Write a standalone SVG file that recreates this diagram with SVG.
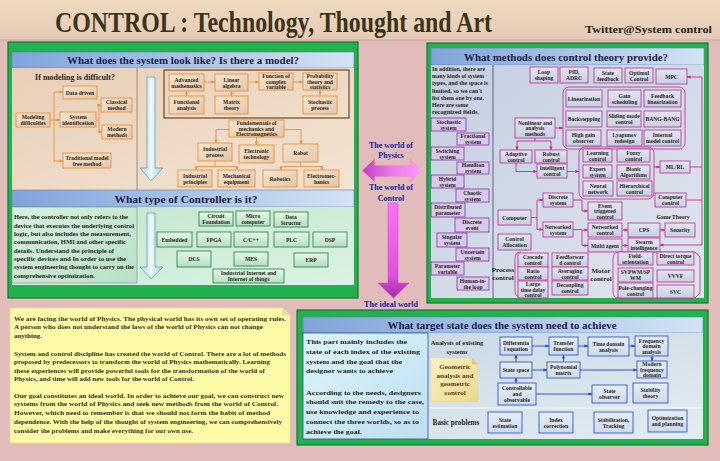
<svg xmlns="http://www.w3.org/2000/svg" width="720" height="461" viewBox="0 0 720 461">
<defs>
<linearGradient id="gTitle" x1="0" y1="0" x2="0" y2="1"><stop offset="0" stop-color="#eddbbf"/><stop offset="1" stop-color="#e6c9b6"/></linearGradient>
<linearGradient id="gHead" x1="0" y1="0" x2="1" y2="0"><stop offset="0" stop-color="#7fa3da"/><stop offset="1" stop-color="#d3e3f4"/></linearGradient>
<linearGradient id="gBeige" x1="0" y1="0" x2="1" y2="1"><stop offset="0" stop-color="#e8cfb7"/><stop offset="1" stop-color="#f3e3d3"/></linearGradient>
<linearGradient id="gOrange" x1="0" y1="0" x2="1" y2="1"><stop offset="0" stop-color="#f6e6d2"/><stop offset="1" stop-color="#e4c5a6"/></linearGradient>
<linearGradient id="gGreenBg" x1="0" y1="0" x2="1" y2="1"><stop offset="0" stop-color="#c2e5cd"/><stop offset="1" stop-color="#dcf2e3"/></linearGradient>
<linearGradient id="gGreenTxt" x1="0" y1="0" x2="1" y2="1"><stop offset="0" stop-color="#d6f0df"/><stop offset="1" stop-color="#b8e0c6"/></linearGradient>
<linearGradient id="gGreenBox" x1="0" y1="0" x2="0" y2="1"><stop offset="0" stop-color="#e6f7ea"/><stop offset="1" stop-color="#b4dec0"/></linearGradient>
<linearGradient id="gSteel" x1="0" y1="0" x2="1" y2="1"><stop offset="0" stop-color="#c4cee0"/><stop offset="1" stop-color="#e0e6ef"/></linearGradient>
<linearGradient id="gSteelBox" x1="0" y1="0" x2="0" y2="1"><stop offset="0" stop-color="#e2e6f2"/><stop offset="1" stop-color="#c8cee2"/></linearGradient>
<linearGradient id="gCyan" x1="0" y1="0" x2="1" y2="1"><stop offset="0" stop-color="#dcf4fb"/><stop offset="1" stop-color="#bddff0"/></linearGradient>
<linearGradient id="gBR" x1="0" y1="0" x2="1" y2="1"><stop offset="0" stop-color="#c6d6e4"/><stop offset="1" stop-color="#e2edf1"/></linearGradient>
<linearGradient id="gBlueBox" x1="0" y1="0" x2="0" y2="1"><stop offset="0" stop-color="#e6eef8"/><stop offset="1" stop-color="#ccdaec"/></linearGradient>
<linearGradient id="gGeo" x1="0" y1="0" x2="1" y2="1"><stop offset="0" stop-color="#fbf0c0"/><stop offset="1" stop-color="#ecd88e"/></linearGradient>
<linearGradient id="gIce" x1="0" y1="0" x2="1" y2="0"><stop offset="0" stop-color="#a8d6e2"/><stop offset="0.5" stop-color="#eef9fb"/><stop offset="1" stop-color="#9ccfdc"/></linearGradient>
<linearGradient id="gMagH" x1="0" y1="0" x2="1" y2="0"><stop offset="0" stop-color="#c43cc8"/><stop offset="0.5" stop-color="#e57ce8"/><stop offset="1" stop-color="#ff98ff"/></linearGradient>
<linearGradient id="gMagV" x1="0" y1="0" x2="0" y2="1"><stop offset="0" stop-color="#ff70ff"/><stop offset="0.75" stop-color="#e050e0"/><stop offset="1" stop-color="#a828a8"/></linearGradient>
<marker id="aO" viewBox="0 0 10 10" refX="9" refY="5" markerWidth="4" markerHeight="4" orient="auto" markerUnits="userSpaceOnUse"><path d="M0,1 L10,5 L0,9 z" fill="#e8913c"/></marker>
<marker id="aM" viewBox="0 0 10 10" refX="9" refY="5" markerWidth="4" markerHeight="4" orient="auto" markerUnits="userSpaceOnUse"><path d="M0,1 L10,5 L0,9 z" fill="#d0288c"/></marker>
<marker id="aB" viewBox="0 0 10 10" refX="9" refY="5" markerWidth="4" markerHeight="4" orient="auto" markerUnits="userSpaceOnUse"><path d="M0,1 L10,5 L0,9 z" fill="#2848d0"/></marker>
<style>
text{font-family:"Liberation Serif","Times New Roman",serif;font-weight:bold;}
.frame{fill:#22b14c;stroke:#0f7a32;stroke-width:1.2;}
.head{fill:url(#gHead);stroke:#5a7fb8;stroke-width:0.6;}
.ht{font-size:11px;fill:#1c1c48;}
.bt{font-size:5.6px;fill:#2a2418;text-anchor:middle;}
.ob{fill:url(#gOrange);stroke:#e8913c;stroke-width:0.9;}
.gb{fill:url(#gGreenBox);stroke:#2e8b50;stroke-width:0.9;}
.pb{fill:#d8c8ec;stroke:#8e44a8;stroke-width:0.9;}
.mb{fill:url(#gSteelBox);stroke:#c03c9c;stroke-width:0.9;}
.bb{fill:url(#gBlueBox);stroke:#3858c0;stroke-width:0.9;}
.co{fill:none;stroke:#e8913c;stroke-width:0.9;}
.cm{fill:none;stroke:#d0288c;stroke-width:0.9;}
.cb{fill:none;stroke:#2848d0;stroke-width:0.9;}
.body{font-size:6.4px;fill:#2a2418;}
.yt{font-size:6.5px;fill:#3a3420;}
.world{font-size:8px;fill:#1a1aa0;text-anchor:middle;}
.lbl{font-size:7px;fill:#2a2418;text-anchor:middle;}
</style>
</defs>

<rect x="0" y="0" width="720" height="461" fill="#e1bcbb"/>

<g id="title">
<rect x="0" y="0" width="720" height="40" fill="url(#gTitle)"/>
<line x1="0" y1="40" x2="720" y2="40" stroke="#c9a89a" stroke-width="1"/>
<text x="55" y="32" font-size="29" fill="#3b3518" textLength="437" lengthAdjust="spacingAndGlyphs">CONTROL :  Technology, Thought and Art</text>
<text x="585" y="33" font-size="9.5" fill="#222222" textLength="127" lengthAdjust="spacingAndGlyphs">Twitter@System control</text>
</g>

<!-- LEFT PANEL -->
<g id="panel-model">
<rect class="frame" x="8" y="42" width="350" height="256"/>
<rect class="head" x="12" y="52" width="342" height="16"/>
<text class="ht" x="183" y="64" text-anchor="middle" textLength="232" lengthAdjust="spacingAndGlyphs">What does the system look like? Is there a model?</text>
<rect x="12" y="68" width="342" height="122" fill="url(#gBeige)"/>
<line x1="137" y1="68" x2="137" y2="190" stroke="#8a7a6a" stroke-width="0.8"/>
<text x="75" y="80" font-size="8" fill="#2a2418" text-anchor="middle">If modeling is difficult?</text>
<polygon points="147,77 155,77 155,168 163,168 151,181 140,168 147,168" fill="url(#gIce)" stroke="#6f9fae" stroke-width="0.8"/>
<rect x="164" y="70" width="185" height="48" fill="none" stroke="#6b4a2a" stroke-width="1.2"/>
</g>

<g id="n-data-driven"><rect class="ob" x="63" y="86" width="34" height="13"/><text class="bt" x="80" y="94.5">Data driven</text></g>
<g id="n-classical"><rect class="ob" x="101" y="98" width="31" height="14"/><text class="bt"><tspan x="116.5" y="104">Classical</tspan><tspan x="116.5" y="110">method</tspan></text></g>
<g id="n-modeling"><rect class="ob" x="16" y="113" width="34" height="14"/><text class="bt"><tspan x="33" y="119">Modeling</tspan><tspan x="33" y="125">difficulties</tspan></text></g>
<g id="n-sysid"><rect class="ob" x="60" y="112" width="36" height="15"/><text class="bt"><tspan x="78" y="118.5">System</tspan><tspan x="78" y="124.5">identification</tspan></text></g>
<g id="n-modern"><rect class="ob" x="102" y="125" width="30" height="14"/><text class="bt"><tspan x="117" y="131">Modern</tspan><tspan x="117" y="137">methods</tspan></text></g>
<g id="n-traditional"><rect class="ob" x="63" y="153" width="48" height="15"/><text class="bt"><tspan x="87" y="159.5">Traditional model</tspan><tspan x="87" y="165.5">free method</tspan></text></g>

<g id="n-adv-math"><rect class="ob" x="169" y="74" width="35" height="17"/><text class="bt"><tspan x="186.5" y="81.5">Advanced</tspan><tspan x="186.5" y="87.5">mathematics</tspan></text></g>
<g id="n-linear"><rect class="ob" x="215" y="74" width="33" height="17"/><text class="bt"><tspan x="231.5" y="81.5">Linear</tspan><tspan x="231.5" y="87.5">algebra</tspan></text></g>
<g id="n-complex"><rect class="ob" x="259" y="73" width="34" height="17"/><text class="bt"><tspan x="276" y="78.2">Function of</tspan><tspan x="276" y="83.5">complex</tspan><tspan x="276" y="88.8">variable</tspan></text></g>
<g id="n-prob"><rect class="ob" x="303" y="73" width="34" height="17"/><text class="bt"><tspan x="320" y="78.2">Probability</tspan><tspan x="320" y="83.5">theory and</tspan><tspan x="320" y="88.8">statistics</tspan></text></g>
<g id="n-functional"><rect class="ob" x="169" y="96" width="35" height="18"/><text class="bt"><tspan x="186.5" y="104">Functional</tspan><tspan x="186.5" y="110">analysis</tspan></text></g>
<g id="n-matrix"><rect class="ob" x="215" y="96" width="33" height="18"/><text class="bt"><tspan x="231.5" y="104">Matrix</tspan><tspan x="231.5" y="110">theory</tspan></text></g>
<g id="n-stochastic"><rect class="ob" x="303" y="96" width="34" height="18"/><text class="bt"><tspan x="320" y="104">Stochastic</tspan><tspan x="320" y="110">process</tspan></text></g>

<g id="n-fundamentals"><rect class="ob" x="229" y="120" width="55" height="17"/><text class="bt"><tspan x="256.5" y="125.2">Fundamentals of</tspan><tspan x="256.5" y="130.5">mechanics and</tspan><tspan x="256.5" y="135.8">Electromagnetics</tspan></text></g>
<g id="n-ind-process"><rect class="ob" x="198" y="143" width="34" height="18"/><text class="bt"><tspan x="215" y="151">Industrial</tspan><tspan x="215" y="157">process</tspan></text></g>
<g id="n-electronic"><rect class="ob" x="239" y="145" width="35" height="18"/><text class="bt"><tspan x="256.5" y="153">Electronic</tspan><tspan x="256.5" y="159">technology</tspan></text></g>
<g id="n-robot"><rect class="ob" x="283" y="144" width="35" height="18"/><text class="bt" x="300.5" y="155">Robot</text></g>
<g id="n-ind-principles"><rect class="ob" x="178" y="170" width="34" height="17"/><text class="bt"><tspan x="195" y="177.5">Industrial</tspan><tspan x="195" y="183.5">principles</tspan></text></g>
<g id="n-mechanical"><rect class="ob" x="218" y="170" width="37" height="17"/><text class="bt"><tspan x="236.5" y="177.5">Mechanical</tspan><tspan x="236.5" y="183.5">equipment</tspan></text></g>
<g id="n-robotics"><rect class="ob" x="263" y="170" width="34" height="17"/><text class="bt" x="280" y="180.5">Robotics</text></g>
<g id="n-electromech"><rect class="ob" x="304" y="170" width="35" height="17"/><text class="bt"><tspan x="321.5" y="177.5">Electromec-</tspan><tspan x="321.5" y="183.5">hanics</tspan></text></g>

<g id="panel-controller">
<rect class="head" x="12" y="190" width="342" height="17"/>
<text class="ht" x="186" y="203" text-anchor="middle" textLength="143" lengthAdjust="spacingAndGlyphs">What type of Controller is it?</text>
<rect x="12" y="207" width="342" height="78" fill="url(#gGreenBg)"/>
<rect x="12" y="207" width="125" height="76" fill="url(#gGreenTxt)" stroke="#6a9a7a" stroke-width="0.6"/>
<text class="body" x="14" y="219" textLength="114" lengthAdjust="spacingAndGlyphs">Here, the controller not only refers to the</text>
<text class="body" x="14" y="227.5" textLength="120" lengthAdjust="spacingAndGlyphs">device that executes the underlying control</text>
<text class="body" x="14" y="236" textLength="117" lengthAdjust="spacingAndGlyphs">logic, but also includes the measurement,</text>
<text class="body" x="14" y="244.3" textLength="112" lengthAdjust="spacingAndGlyphs">communication, HMI and other specific</text>
<text class="body" x="14" y="252.6" textLength="100" lengthAdjust="spacingAndGlyphs">details. Understand the principle of</text>
<text class="body" x="14" y="261" textLength="112" lengthAdjust="spacingAndGlyphs">specific devices and In order to use the</text>
<text class="body" x="14" y="269.3" textLength="120" lengthAdjust="spacingAndGlyphs">system engineering thought to carry on the</text>
<text class="body" x="14" y="277.6" textLength="81" lengthAdjust="spacingAndGlyphs">comprehensive optimization.</text>
<polygon points="147,213 155,213 155,267 163,267 151,279 140,267 147,267" fill="url(#gIce)" stroke="#6f9fae" stroke-width="0.8"/>
</g>

<g id="n-circuit"><rect class="gb" x="199" y="212" width="34" height="14"/><text class="bt"><tspan x="216" y="218">Circuit</tspan><tspan x="216" y="224">Foundation</tspan></text></g>
<g id="n-micro"><rect class="gb" x="236" y="211" width="34" height="15"/><text class="bt"><tspan x="253" y="217.5">Micro</tspan><tspan x="253" y="223.5">computer</tspan></text></g>
<g id="n-datastruct"><rect class="gb" x="274" y="212" width="34" height="15"/><text class="bt"><tspan x="291" y="218.5">Data</tspan><tspan x="291" y="224.5">Structur</tspan></text></g>
<g id="n-embedded"><rect class="gb" x="157" y="232" width="35" height="15"/><text class="bt" x="174.5" y="241.5">Embedded</text></g>
<g id="n-fpga"><rect class="gb" x="197" y="232" width="34" height="15"/><text class="bt" x="214" y="241.5">FPGA</text></g>
<g id="n-cpp"><rect class="gb" x="234" y="232" width="34" height="15"/><text class="bt" x="251" y="241.5">C/C++</text></g>
<g id="n-plc"><rect class="gb" x="274" y="232" width="35" height="15"/><text class="bt" x="291.5" y="241.5">PLC</text></g>
<g id="n-dsp"><rect class="gb" x="313" y="232" width="34" height="15"/><text class="bt" x="330" y="241.5">DSP</text></g>
<g id="n-dcs"><rect class="gb" x="177" y="251" width="34" height="16"/><text class="bt" x="194" y="261">DCS</text></g>
<g id="n-mes"><rect class="gb" x="234" y="252" width="34" height="14"/><text class="bt" x="251" y="261">MES</text></g>
<g id="n-erp"><rect class="gb" x="294" y="253" width="34" height="14"/><text class="bt" x="311" y="262">ERP</text></g>
<g id="n-iiot"><rect class="gb" x="213" y="269" width="71" height="14"/><text class="bt"><tspan x="248.5" y="275">Industrial Internet and</tspan><tspan x="248.5" y="281">Internet of things</tspan></text></g>

<!-- MIDDLE -->
<g id="worlds">
<text class="world" x="391" y="148">The world of</text>
<text class="world" x="391" y="158">Physics</text>
<polygon points="362,170.5 375,158 375,165 410,165 410,158 422,170.5 410,183 410,177 375,177 375,183" fill="url(#gMagH)" stroke="#f2b68e" stroke-width="0.9"/>
<text class="world" x="391" y="190">The world of</text>
<text class="world" x="391" y="201">Control</text>
<polygon points="388,203 398,203 398,283 409,283 393.5,298 378,283 388,283" fill="url(#gMagV)" stroke="#c060c0" stroke-width="0.6"/>
<text class="world" x="391" y="307">The ideal world</text>
</g>

<!-- RIGHT PANEL -->
<g id="panel-methods">
<rect class="frame" x="427" y="43" width="281" height="260"/>
<rect class="head" x="431" y="48" width="273" height="17"/>
<text class="ht" x="566" y="61" text-anchor="middle" textLength="204" lengthAdjust="spacingAndGlyphs">What methods does control theory provide?</text>
<rect x="431" y="65" width="273" height="233" fill="url(#gSteel)"/>
<line x1="493" y1="65" x2="493" y2="298" stroke="#3a4a6a" stroke-width="0.8"/>
<text class="body" x="432" y="71" font-size="6" textLength="53" lengthAdjust="spacingAndGlyphs">In addition, there are</text>
<text class="body" x="432" y="78.2" font-size="6" textLength="52" lengthAdjust="spacingAndGlyphs">many kinds of system</text>
<text class="body" x="432" y="85.4" font-size="6" textLength="56" lengthAdjust="spacingAndGlyphs">types, and the space is</text>
<text class="body" x="432" y="92.6" font-size="6" textLength="50" lengthAdjust="spacingAndGlyphs">limited, so we can't</text>
<text class="body" x="432" y="99.8" font-size="6" textLength="52" lengthAdjust="spacingAndGlyphs">list them one by one.</text>
<text class="body" x="432" y="107" font-size="6" textLength="36" lengthAdjust="spacingAndGlyphs">Here are some</text>
<text class="body" x="432" y="114.2" font-size="6" textLength="47" lengthAdjust="spacingAndGlyphs">recognized fields.</text>
<rect x="563" y="87" width="122" height="62" rx="6" fill="none" stroke="#c03c9c" stroke-width="0.9"/>
<rect x="579" y="147" width="75" height="52" rx="6" fill="none" stroke="#c03c9c" stroke-width="0.9"/>
<path d="M521,252 Q515,252 515,258 V291 Q515,297 521,297" fill="none" stroke="#c03c9c" stroke-width="0.9"/>
<path d="M619,252 H695 L700,257 V293 L695,298 H619 Q613,298 613,292 V258 Q613,252 619,252 Z" fill="none" stroke="#c03c9c" stroke-width="0.9"/>
<text class="lbl" x="503" y="272">Process</text>
<text class="lbl" x="503" y="280">control</text>
<text class="lbl" x="601" y="273">Motor</text>
<text class="lbl" x="601" y="281">control</text>
<text x="673" y="219" font-size="5.6" fill="#2a2418" text-anchor="middle">Game Theory</text>
</g>

<g id="n-stochastic-sys"><rect class="pb" x="431" y="118" width="35" height="13"/><text class="bt"><tspan x="448.5" y="123.5">Stochastic</tspan><tspan x="448.5" y="129.5">system</tspan></text></g>
<g id="n-fractional"><rect class="pb" x="457" y="133" width="32" height="12"/><text class="bt"><tspan x="473" y="138">Fractional</tspan><tspan x="473" y="144">system</tspan></text></g>
<g id="n-switching"><rect class="pb" x="431" y="147" width="33" height="13"/><text class="bt"><tspan x="447.5" y="152.5">Switching</tspan><tspan x="447.5" y="158.5">system</tspan></text></g>
<g id="n-hamilton"><rect class="pb" x="457" y="162" width="32" height="12"/><text class="bt"><tspan x="473" y="167">Hamilton</tspan><tspan x="473" y="173">system</tspan></text></g>
<g id="n-hybrid"><rect class="pb" x="431" y="175" width="33" height="13"/><text class="bt"><tspan x="447.5" y="180.5">Hybrid</tspan><tspan x="447.5" y="186.5">system</tspan></text></g>
<g id="n-chaotic"><rect class="pb" x="456" y="189" width="33" height="13"/><text class="bt"><tspan x="472.5" y="194.5">Chaotic</tspan><tspan x="472.5" y="200.5">system</tspan></text></g>
<g id="n-distributed"><rect class="pb" x="431" y="203" width="34" height="14"/><text class="bt"><tspan x="448" y="209">Distributed</tspan><tspan x="448" y="215">parameter</tspan></text></g>
<g id="n-discrete-event"><rect class="pb" x="455" y="218" width="34" height="14"/><text class="bt"><tspan x="472" y="224">Discrete</tspan><tspan x="472" y="230">event</tspan></text></g>
<g id="n-singular"><rect class="pb" x="437" y="233" width="30" height="14"/><text class="bt"><tspan x="452" y="239">Singular</tspan><tspan x="452" y="245">system</tspan></text></g>
<g id="n-uncertain"><rect class="pb" x="456" y="248" width="33" height="13"/><text class="bt"><tspan x="472.5" y="253.5">Uncertain</tspan><tspan x="472.5" y="259.5">system</tspan></text></g>
<g id="n-parameter"><rect class="pb" x="431" y="262" width="33" height="13"/><text class="bt"><tspan x="447.5" y="267.5">Parameter</tspan><tspan x="447.5" y="273.5">variable</tspan></text></g>
<g id="n-human"><rect class="pb" x="457" y="277" width="32" height="13"/><text class="bt"><tspan x="473" y="282.5">Human-in-</tspan><tspan x="473" y="288.5">the loop</tspan></text></g>

<g id="n-loop"><rect class="mb" x="530" y="67" width="28" height="16"/><text class="bt"><tspan x="544" y="74">Loop</tspan><tspan x="544" y="80">shaping</tspan></text></g>
<g id="n-pid"><rect class="mb" x="560" y="67" width="28" height="16"/><text class="bt"><tspan x="574" y="74">PID,</tspan><tspan x="574" y="80">ADRC</tspan></text></g>
<g id="n-statefb"><rect class="mb" x="594" y="68" width="28" height="15"/><text class="bt"><tspan x="608" y="74.5">State</tspan><tspan x="608" y="80.5">feedback</tspan></text></g>
<g id="n-optimal"><rect class="mb" x="625" y="68" width="28" height="15"/><text class="bt"><tspan x="639" y="74.5">Optimal</tspan><tspan x="639" y="80.5">Control</tspan></text></g>
<g id="n-mpc"><rect class="mb" x="656" y="69" width="31" height="15"/><text class="bt" x="671.5" y="78.5">MPC</text></g>
<g id="n-linearization"><rect class="mb" x="566" y="90" width="36" height="17"/><text class="bt" x="584" y="100.5">Linearization</text></g>
<g id="n-gain"><rect class="mb" x="608" y="90" width="33" height="17"/><text class="bt"><tspan x="624.5" y="97.5">Gain</tspan><tspan x="624.5" y="103.5">scheduling</tspan></text></g>
<g id="n-fblin"><rect class="mb" x="644" y="90" width="37" height="17"/><text class="bt"><tspan x="662.5" y="97.5">Feedback</tspan><tspan x="662.5" y="103.5">linearization</tspan></text></g>
<g id="n-backstepping"><rect class="mb" x="566" y="111" width="36" height="16"/><text class="bt" x="584" y="121">Backstepping</text></g>
<g id="n-sliding"><rect class="mb" x="607" y="111" width="34" height="16"/><text class="bt"><tspan x="624" y="118">Sliding mode</tspan><tspan x="624" y="124">control</tspan></text></g>
<g id="n-bangbang"><rect class="mb" x="644" y="111" width="37" height="16"/><text class="bt" x="662.5" y="121">BANG-BANG</text></g>
<g id="n-highgain"><rect class="mb" x="566" y="130" width="35" height="16"/><text class="bt"><tspan x="583.5" y="137">High gain</tspan><tspan x="583.5" y="143">observer</tspan></text></g>
<g id="n-lyapunov"><rect class="mb" x="607" y="130" width="35" height="16"/><text class="bt"><tspan x="624.5" y="137">Lyapunov</tspan><tspan x="624.5" y="143">redesign</tspan></text></g>
<g id="n-internal"><rect class="mb" x="644" y="130" width="37" height="16"/><text class="bt"><tspan x="662.5" y="137">Internal</tspan><tspan x="662.5" y="143">model control</tspan></text></g>
<g id="n-learning"><rect class="mb" x="583" y="149" width="29" height="13"/><text class="bt"><tspan x="597.5" y="154.5">Learning</tspan><tspan x="597.5" y="160.5">control</tspan></text></g>
<g id="n-fuzzy"><rect class="mb" x="617" y="149" width="33" height="13"/><text class="bt"><tspan x="633.5" y="154.5">Fuzzy</tspan><tspan x="633.5" y="160.5">control</tspan></text></g>
<g id="n-expert"><rect class="mb" x="583" y="165" width="29" height="13"/><text class="bt"><tspan x="597.5" y="170.5">Expert</tspan><tspan x="597.5" y="176.5">system</tspan></text></g>
<g id="n-bionic"><rect class="mb" x="617" y="165" width="33" height="14"/><text class="bt"><tspan x="633.5" y="171">Bionic</tspan><tspan x="633.5" y="177">Algorithms</tspan></text></g>
<g id="n-neural"><rect class="mb" x="583" y="181" width="30" height="15"/><text class="bt"><tspan x="598" y="187.5">Neural</tspan><tspan x="598" y="193.5">network</tspan></text></g>
<g id="n-hierarchical"><rect class="mb" x="617" y="181" width="35" height="15"/><text class="bt"><tspan x="634.5" y="187.5">Hierarchical</tspan><tspan x="634.5" y="193.5">control</tspan></text></g>
<g id="n-mlrl"><rect class="mb" x="660" y="161" width="30" height="12"/><text class="bt" x="675" y="169">ML/RL</text></g>
<g id="n-computer-control"><rect class="mb" x="655" y="193" width="31" height="14"/><text class="bt"><tspan x="670.5" y="199">Computer</tspan><tspan x="670.5" y="205">control</tspan></text></g>
<g id="n-nonlinear"><rect class="mb" x="515" y="118" width="40" height="20"/><text class="bt"><tspan x="535" y="124.5">Nonlinear and</tspan><tspan x="535" y="130">analysis</tspan><tspan x="535" y="135.5">methods</tspan></text></g>
<g id="n-adaptive"><rect class="mb" x="500" y="150" width="32" height="13"/><text class="bt"><tspan x="516" y="155.5">Adaptive</tspan><tspan x="516" y="161.5">control</tspan></text></g>
<g id="n-robust"><rect class="mb" x="535" y="150" width="32" height="13"/><text class="bt"><tspan x="551" y="155.5">Robust</tspan><tspan x="551" y="161.5">control</tspan></text></g>
<g id="n-intelligent"><rect class="mb" x="537" y="164" width="30" height="14"/><text class="bt"><tspan x="552" y="170">Intelligent</tspan><tspan x="552" y="176">control</tspan></text></g>
<g id="n-computer"><rect class="mb" x="498" y="210" width="33" height="15"/><text class="bt" x="514.5" y="219.5">Computer</text></g>
<g id="n-allocation"><rect class="mb" x="498" y="234" width="33" height="16"/><text class="bt"><tspan x="514.5" y="241">Control</tspan><tspan x="514.5" y="247">Allocation</tspan></text></g>
<g id="n-discrete-sys"><rect class="mb" x="543" y="193" width="30" height="14"/><text class="bt"><tspan x="558" y="199">Discrete</tspan><tspan x="558" y="205">system</tspan></text></g>
<g id="n-networked-sys"><rect class="mb" x="543" y="222" width="30" height="15"/><text class="bt"><tspan x="558" y="228.5">Networked</tspan><tspan x="558" y="234.5">system</tspan></text></g>
<g id="n-event"><rect class="mb" x="588" y="202" width="34" height="18"/><text class="bt"><tspan x="605" y="207.5">Event</tspan><tspan x="605" y="213">triggered</tspan><tspan x="605" y="218.5">control</tspan></text></g>
<g id="n-networked-ctrl"><rect class="mb" x="588" y="223" width="34" height="14"/><text class="bt"><tspan x="605" y="229">Networked</tspan><tspan x="605" y="235">control</tspan></text></g>
<g id="n-multiagent"><rect class="mb" x="588" y="239" width="34" height="13"/><text class="bt" x="605" y="247.5">Multi agent</text></g>
<g id="n-cps"><rect class="mb" x="628" y="223" width="32" height="14"/><text class="bt" x="644" y="232">CPS</text></g>
<g id="n-security"><rect class="mb" x="665" y="223" width="30" height="14"/><text class="bt" x="680" y="232">Security</text></g>
<g id="n-swarm"><rect class="mb" x="628" y="238" width="32" height="14"/><text class="bt"><tspan x="644" y="244">Swarm</tspan><tspan x="644" y="250">intelligence</tspan></text></g>
<g id="n-cascade"><rect class="mb" x="518" y="253" width="30" height="14"/><text class="bt"><tspan x="533" y="259">Cascade</tspan><tspan x="533" y="265">control</tspan></text></g>
<g id="n-ratio"><rect class="mb" x="518" y="267" width="30" height="13"/><text class="bt"><tspan x="533" y="272.5">Ratio</tspan><tspan x="533" y="278.5">control</tspan></text></g>
<g id="n-timedelay"><rect class="mb" x="518" y="281" width="30" height="17"/><text class="bt"><tspan x="533" y="286.2">Large</tspan><tspan x="533" y="291.5">time delay</tspan><tspan x="533" y="296.8">control</tspan></text></g>
<g id="n-feedforward"><rect class="mb" x="552" y="253" width="36" height="14"/><text class="bt"><tspan x="570" y="259">Feedforwar</tspan><tspan x="570" y="265">d control</tspan></text></g>
<g id="n-averaging"><rect class="mb" x="552" y="267" width="36" height="13"/><text class="bt"><tspan x="570" y="272.5">Averaging</tspan><tspan x="570" y="278.5">control</tspan></text></g>
<g id="n-decoupling"><rect class="mb" x="552" y="281" width="36" height="14"/><text class="bt"><tspan x="570" y="287">Decoupling</tspan><tspan x="570" y="293">control</tspan></text></g>
<g id="n-field"><rect class="mb" x="618" y="252" width="35" height="13"/><text class="bt"><tspan x="635.5" y="257.5">Field-</tspan><tspan x="635.5" y="263.5">orientation</tspan></text></g>
<g id="n-dtc"><rect class="mb" x="657" y="252" width="37" height="13"/><text class="bt"><tspan x="675.5" y="257.5">Direct torque</tspan><tspan x="675.5" y="263.5">control</tspan></text></g>
<g id="n-svpwm"><rect class="mb" x="618" y="268" width="35" height="14"/><text class="bt"><tspan x="635.5" y="274">SVPWM/SP</tspan><tspan x="635.5" y="280">WM</tspan></text></g>
<g id="n-vvvf"><rect class="mb" x="657" y="270" width="37" height="12"/><text class="bt" x="675.5" y="278">VVVF</text></g>
<g id="n-pole"><rect class="mb" x="618" y="283" width="35" height="15"/><text class="bt"><tspan x="635.5" y="289.5">Pole-changing</tspan><tspan x="635.5" y="295.5">control</tspan></text></g>
<g id="n-svc"><rect class="mb" x="657" y="285" width="37" height="13"/><text class="bt" x="675.5" y="293.5">SVC</text></g>

<!-- BOTTOM LEFT TEXT -->
<g id="note">
<path d="M10,308 H283 L290,315 V443 H10 Z" fill="#fdfaa8" stroke="#e6dc98" stroke-width="0.8"/>
<path d="M283,308 V315 H290" fill="#e8e2a0" stroke="#d8d090" stroke-width="0.6"/>
<text class="yt" x="14" y="320.5" textLength="272" lengthAdjust="spacingAndGlyphs">We are facing the world of Physics. The physical world has its own set of operating rules.</text>
<text class="yt" x="14" y="329.3" textLength="249" lengthAdjust="spacingAndGlyphs">A person who does not understand the laws of the world of Physics can not change</text>
<text class="yt" x="14" y="338.1" textLength="28" lengthAdjust="spacingAndGlyphs">anything.</text>
<text class="yt" x="14" y="355.5" textLength="272" lengthAdjust="spacingAndGlyphs">System and control discipline has created the world of Control. There are a lot of methods</text>
<text class="yt" x="14" y="364" textLength="256" lengthAdjust="spacingAndGlyphs">proposed by predecessors to transform the world of Physics mathematically. Learning</text>
<text class="yt" x="14" y="372.5" textLength="251" lengthAdjust="spacingAndGlyphs">these experiences will provide powerful tools for the transformation of the world of</text>
<text class="yt" x="14" y="381" textLength="180" lengthAdjust="spacingAndGlyphs">Physics, and time will add new tools for the world of Control.</text>
<text class="yt" x="14" y="397.5" textLength="270" lengthAdjust="spacingAndGlyphs">Our goal constitutes an ideal world. In order to achieve our goal, we can construct new</text>
<text class="yt" x="14" y="406.3" textLength="264" lengthAdjust="spacingAndGlyphs">systems from the world of Physics and seek new methods from the world of Control.</text>
<text class="yt" x="14" y="415.1" textLength="256" lengthAdjust="spacingAndGlyphs">However, which need to remember is that we should not form the habit of method</text>
<text class="yt" x="14" y="423.9" textLength="268" lengthAdjust="spacingAndGlyphs">dependence. With the help of the thought of system engineering, we can comprehensively</text>
<text class="yt" x="14" y="432.7" textLength="179" lengthAdjust="spacingAndGlyphs">consider the problems and make everything for our own use.</text>
</g>

<!-- BOTTOM RIGHT PANEL -->
<g id="panel-target">
<rect class="frame" x="297" y="310" width="411" height="135"/>
<rect class="head" x="303" y="317" width="400" height="16"/>
<text class="ht" x="502" y="329" text-anchor="middle" textLength="229" lengthAdjust="spacingAndGlyphs">What target state does the system need to achieve</text>
<rect x="303" y="333" width="400" height="106" fill="url(#gBR)"/>
<line x1="428" y1="408" x2="703" y2="408" stroke="#f4f8fa" stroke-width="1"/>
<rect x="303" y="333" width="125" height="106" fill="url(#gCyan)" stroke="#3050a0" stroke-width="0.8"/>
<text class="body" x="306" y="344" font-size="7.4" textLength="101" lengthAdjust="spacingAndGlyphs">This part mainly includes the</text>
<text class="body" x="306" y="353.8" font-size="7.4" textLength="114" lengthAdjust="spacingAndGlyphs">state of each index of the existing</text>
<text class="body" x="306" y="363.6" font-size="7.4" textLength="96" lengthAdjust="spacingAndGlyphs">system and the goal that the</text>
<text class="body" x="306" y="373.4" font-size="7.4" textLength="87" lengthAdjust="spacingAndGlyphs">designer wants to achieve</text>
<text class="body" x="306" y="394.5" font-size="7.4" textLength="115" lengthAdjust="spacingAndGlyphs">According to the needs, designers</text>
<text class="body" x="306" y="404.3" font-size="7.4" textLength="118" lengthAdjust="spacingAndGlyphs">should suit the remedy to the case,</text>
<text class="body" x="306" y="414.1" font-size="7.4" textLength="113" lengthAdjust="spacingAndGlyphs">use knowledge and experience to</text>
<text class="body" x="306" y="423.9" font-size="7.4" textLength="113" lengthAdjust="spacingAndGlyphs">connect the three worlds, so as to</text>
<text class="body" x="306" y="433.7" font-size="7.4" textLength="56" lengthAdjust="spacingAndGlyphs">achieve the goal.</text>
<text x="457" y="345" font-size="6.4" fill="#2a2418" text-anchor="middle">Analysis of existing</text>
<text x="457" y="353.5" font-size="6.4" fill="#2a2418" text-anchor="middle">systems</text>
<text x="456" y="425" font-size="7.2" fill="#2a2418" text-anchor="middle">Basic problems</text>
</g>

<g id="n-geometric">
<path d="M431,358 H472 L478,364 V402 H431 Z" fill="url(#gGeo)" stroke="#e6d8a0" stroke-width="0.6"/>
<path d="M472,358 V364 H478" fill="#e0cc80" stroke="#d8c890" stroke-width="0.5"/>
<text font-size="7" fill="#5a4010" text-anchor="middle"><tspan x="455" y="369">Geometric</tspan><tspan x="455" y="377.5">analysis and</tspan><tspan x="455" y="386">geometric</tspan><tspan x="455" y="394.5">control</tspan></text>
</g>
<g id="n-diffeq"><rect class="bb" x="500" y="337" width="32" height="18"/><text class="bt"><tspan x="516" y="345">Differentia</tspan><tspan x="516" y="351">l equation</tspan></text></g>
<g id="n-transfer"><rect class="bb" x="549" y="337" width="29" height="18"/><text class="bt"><tspan x="563.5" y="345">Transfer</tspan><tspan x="563.5" y="351">function</tspan></text></g>
<g id="n-timedomain"><rect class="bb" x="588" y="337" width="41" height="19"/><text class="bt"><tspan x="608.5" y="345.5">Time domain</tspan><tspan x="608.5" y="351.5">analysis</tspan></text></g>
<g id="n-freqdomain"><rect class="bb" x="635" y="336" width="33" height="20"/><text class="bt"><tspan x="651.5" y="342.5">Frequency</tspan><tspan x="651.5" y="348">domain</tspan><tspan x="651.5" y="353.5">analysis</tspan></text></g>
<g id="n-statespace"><rect class="bb" x="500" y="362" width="32" height="16"/><text class="bt" x="516" y="372">State space</text></g>
<g id="n-polynomial"><rect class="bb" x="547" y="362" width="33" height="16"/><text class="bt"><tspan x="563.5" y="369">Polynomial</tspan><tspan x="563.5" y="375">matrix</tspan></text></g>
<g id="n-modernfreq"><rect class="bb" x="637" y="361" width="30" height="17"/><text class="bt"><tspan x="652" y="366.2">Modern</tspan><tspan x="652" y="371.5">frequency</tspan><tspan x="652" y="376.8">domain</tspan></text></g>
<g id="n-controllable"><rect class="bb" x="498" y="383" width="38" height="22"/><text class="bt"><tspan x="517" y="390">Controllable</tspan><tspan x="517" y="396">and</tspan><tspan x="517" y="402">observable</tspan></text></g>
<g id="n-observer"><rect class="bb" x="592" y="385" width="35" height="18"/><text class="bt"><tspan x="609.5" y="393">State</tspan><tspan x="609.5" y="399">observer</tspan></text></g>
<g id="n-stability"><rect class="bb" x="633" y="383" width="35" height="20"/><text class="bt"><tspan x="650.5" y="392">Stability</tspan><tspan x="650.5" y="398">theory</tspan></text></g>
<g id="n-estimation"><rect class="bb" x="488" y="412" width="34" height="21"/><text class="bt"><tspan x="505" y="421.5">State</tspan><tspan x="505" y="427.5">estimation</tspan></text></g>
<g id="n-index"><rect class="bb" x="539" y="412" width="34" height="21"/><text class="bt"><tspan x="556" y="421.5">Index</tspan><tspan x="556" y="427.5">correction</tspan></text></g>
<g id="n-stabilization"><rect class="bb" x="594" y="412" width="39" height="21"/><text class="bt"><tspan x="613.5" y="421.5">Stabilization,</tspan><tspan x="613.5" y="427.5">Tracking</tspan></text></g>
<g id="n-optimization"><rect class="bb" x="648" y="410" width="39" height="22"/><text class="bt"><tspan x="667.5" y="420">Optimization</tspan><tspan x="667.5" y="426">and planning</tspan></text></g>

<!-- CONNECTORS -->
<g id="connectors">
<path class="co" d="M50,120 H60" marker-end="url(#aO)"/>
<path class="co" d="M54,92 V161"/>
<path class="co" d="M54,92 H63" marker-end="url(#aO)"/>
<path class="co" d="M54,161 H63" marker-end="url(#aO)"/>
<path class="co" d="M96,120 H99 M99,105 V132"/>
<path class="co" d="M99,105 H101" marker-end="url(#aO)"/>
<path class="co" d="M99,132 H102" marker-end="url(#aO)"/>
<path class="co" d="M204,82 H215" marker-end="url(#aO)"/>
<path class="co" d="M248,82 H259" marker-end="url(#aO)"/>
<path class="co" d="M293,82 H303" marker-end="url(#aO)"/>
<path class="co" d="M186.5,96 V91" marker-end="url(#aO)"/>
<path class="co" d="M231.5,96 V91" marker-end="url(#aO)"/>
<path class="co" d="M320,96 V90" marker-end="url(#aO)"/>
<path class="co" d="M229,129.5 H216 V143" marker-end="url(#aO)"/>
<path class="co" d="M284,129.5 H301 V144" marker-end="url(#aO)"/>
<path class="co" d="M256.5,137 V145" marker-end="url(#aO)"/>
<path class="co" d="M215,161 V166.5 M196,166.5 H237"/>
<path class="co" d="M196,166.5 V170" marker-end="url(#aO)"/>
<path class="co" d="M237,166.5 V170" marker-end="url(#aO)"/>
<path class="co" d="M300.5,162 V166.5 M281,166.5 H322"/>
<path class="co" d="M281,166.5 V170" marker-end="url(#aO)"/>
<path class="co" d="M322,166.5 V170" marker-end="url(#aO)"/>

<path class="cm" d="M555,128 H563" marker-end="url(#aM)"/>
<path class="cm" d="M535,138 V141 M517,141 H551"/>
<path class="cm" d="M517,141 V150" marker-end="url(#aM)"/>
<path class="cm" d="M551,141 V150" marker-end="url(#aM)"/>
<path class="cm" d="M516,163 V171.5 H537" marker-end="url(#aM)"/>
<path class="cm" d="M567,171.5 H579" marker-end="url(#aM)"/>
<path class="cm" d="M654,167 H660" marker-end="url(#aM)"/>
<path class="cm" d="M690,167 H702 M686,200 H702 M702,245 V77"/>
<path class="cm" d="M702,77 H687" marker-end="url(#aM)"/>
<path class="cm" d="M702,245 H660" marker-end="url(#aM)"/>
<path class="cm" d="M531,217.5 H537 M537,200 V229.5"/>
<path class="cm" d="M537,200 H543" marker-end="url(#aM)"/>
<path class="cm" d="M537,229.5 H543" marker-end="url(#aM)"/>
<path class="cm" d="M573,200 H582 V211 H588" marker-end="url(#aM)"/>
<path class="cm" d="M573,229.5 H582 M582,230 V245.5"/>
<path class="cm" d="M582,230 H588" marker-end="url(#aM)"/>
<path class="cm" d="M582,245.5 H588" marker-end="url(#aM)"/>
<path class="cm" d="M622,230 H628" marker-end="url(#aM)"/>
<path class="cm" d="M660,230 H665" marker-end="url(#aM)"/>
<path class="cm" d="M622,245.5 H628" marker-end="url(#aM)"/>

<path class="cb" d="M532,346 H549" marker-end="url(#aB)"/>
<path class="cb" d="M578,346 H588" marker-end="url(#aB)"/>
<path class="cb" d="M629,346 H635" marker-end="url(#aB)"/>
<path class="cb" d="M563.5,362 V355" marker-end="url(#aB)"/>
<path class="cb" d="M652,356 V361" marker-end="url(#aB)"/>
<path class="cb" d="M516,362 V355" marker-end="url(#aB)"/>
<path class="cb" d="M532,370 H547" marker-end="url(#aB)"/>
<path class="cb" d="M580,370 H637" marker-end="url(#aB)"/>
<path class="cb" d="M516,383 V378" marker-end="url(#aB)"/>
<path class="cb" d="M536,394 H592" marker-end="url(#aB)"/>
</g>
</svg>
